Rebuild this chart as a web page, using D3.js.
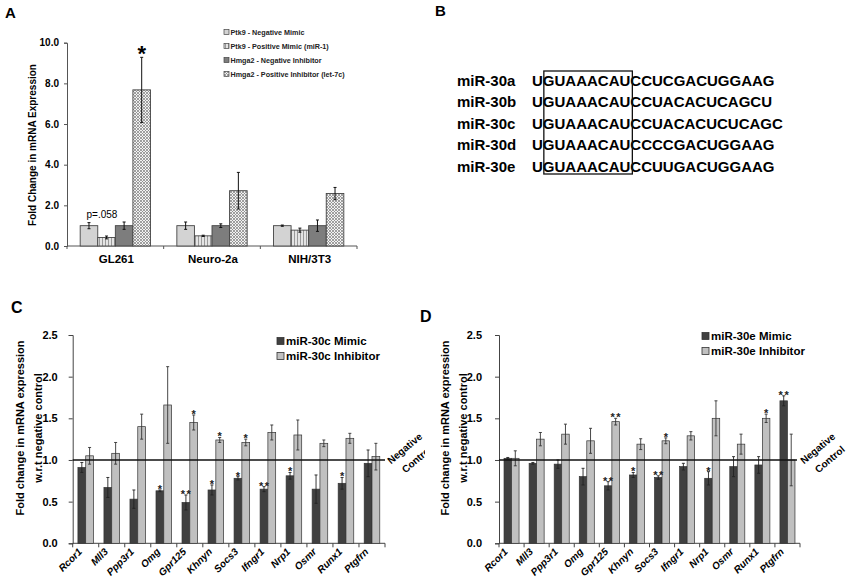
<!DOCTYPE html>
<html><head><meta charset="utf-8">
<script src="https://cdn.jsdelivr.net/npm/d3@7"></script>
<style>
body{margin:0;background:#fff;}
svg{display:block;font-family:Arial,"Liberation Sans",sans-serif;}
</style></head>
<body><svg id="c" width="850" height="586"></svg>
<script>
// ---------- Panel A data ----------
const cellLines = ["GL261", "Neuro-2a", "NIH/3T3"];
const seriesA = ["Ptk9 - Negative Mimic", "Ptk9 - Positive Mimic (miR-1)", "Hmga2 - Negative Inhibitor", "Hmga2 - Positive Inhibitor (let-7c)"];
const ptk9Neg = [1.0, 1.0, 1.0];
const ptk9Pos = [0.42, 0.5, 0.78];
const hmgaNeg = [1.0, 1.0, 1.0];
const hmgaPos = [7.68, 2.72, 2.58];
const ptk9NegErr = [0.15, 0.18, 0.03];
const ptk9PosErr = [0.07, 0.03, 0.1];
const hmgaNegErr = [0.18, 0.09, 0.28];
const hmgaPosErr = [1.6, 0.9, 0.3];
const ticksA = [0, 2, 4, 6, 8, 10];

// ---------- Panel B data ----------
const mirNames = ["miR-30a", "miR-30b", "miR-30c", "miR-30d", "miR-30e"];
const mirSeqs = ["UGUAAACAUCCUCGACUGGAAG", "UGUAAACAUCCUACACUCAGCU", "UGUAAACAUCCUACACUCUCAGC", "UGUAAACAUCCCCGACUGGAAG", "UGUAAACAUCCUUGACUGGAAG"];

// ---------- Panel C / D data ----------
const genes = ["Rcor1", "Mll3", "Ppp3r1", "Omg", "Gpr125", "Khnyn", "Socs3", "Ifngr1", "Nrp1", "Osmr", "Runx1", "Ptgfrn"];
const ticksCD = [0, 0.5, 1.0, 1.5, 2.0, 2.5];
const cMimic = [0.91, 0.67, 0.53, 0.63, 0.49, 0.64, 0.78, 0.65, 0.81, 0.65, 0.72, 0.96];
const cMimicErr = [0.06, 0.12, 0.11, 0.01, 0.09, 0.06, 0.02, 0.03, 0.04, 0.17, 0.07, 0.16];
const cInhib = [1.05, 1.08, 1.40, 1.66, 1.45, 1.24, 1.21, 1.33, 1.30, 1.20, 1.26, 1.04];
const cInhibErr = [0.10, 0.13, 0.15, 0.46, 0.09, 0.03, 0.04, 0.09, 0.18, 0.04, 0.06, 0.16];
const cMimicSig = ["", "", "", "*", "**", "*", "*", "**", "*", "", "*", ""];
const cInhibSig = ["", "", "", "", "*", "*", "*", "", "", "", "", ""];
const dMimic = [1.02, 0.96, 0.95, 0.80, 0.69, 0.82, 0.79, 0.92, 0.78, 0.92, 0.94, 1.71];
const dMimicErr = [0.01, 0.01, 0.05, 0.10, 0.05, 0.03, 0.02, 0.04, 0.08, 0.12, 0.10, 0.06];
const dInhib = [1.02, 1.25, 1.31, 1.23, 1.46, 1.19, 1.23, 1.29, 1.50, 1.19, 1.50, 1.00];
const dInhibErr = [0.09, 0.08, 0.12, 0.15, 0.04, 0.065, 0.035, 0.05, 0.21, 0.12, 0.05, 0.31];
const dMimicSig = ["", "", "", "", "**", "*", "**", "", "*", "", "", "**"];
const dInhibSig = ["", "", "", "", "**", "", "*", "", "", "", "*", ""];

const svg = d3.select("#c");
const defs = svg.append("defs");

// patterns for panel A
const pStripe = defs.append("pattern").attr("id", "stripe").attr("patternUnits", "userSpaceOnUse")
  .attr("width", 3).attr("height", 3);
pStripe.append("rect").attr("width", 3).attr("height", 3).attr("fill", "#e4e4e4");
pStripe.append("rect").attr("width", 1).attr("height", 3).attr("fill", "#9a9a9a");
const pHatch = defs.append("pattern").attr("id", "hatch").attr("patternUnits", "userSpaceOnUse")
  .attr("width", 3).attr("height", 3);
pHatch.append("rect").attr("width", 3).attr("height", 3).attr("fill", "#f2f2f2");
pHatch.append("path").attr("d", "M0,0 L3,3 M3,0 L0,3").attr("stroke", "#8a8a8a").attr("stroke-width", 0.8);

const fillsA = ["#d3d3d3", "url(#stripe)", "#7d7d7d", "url(#hatch)"];

function rotText(parent, x, y, angle, str, attrs) {
  const t = parent.append("text").attr("transform", `translate(${x},${y}) rotate(${angle})`).text(str);
  Object.entries(attrs).forEach(([k, v]) => t.attr(k, v));
  return t;
}

// panel letters
svg.append("text").attr("x", 5).attr("y", 18).attr("font-size", 15).attr("font-weight", "bold").text("A");
svg.append("text").attr("x", 435).attr("y", 16).attr("font-size", 15).attr("font-weight", "bold").text("B");
svg.append("text").attr("x", 11).attr("y", 313).attr("font-size", 16).attr("font-weight", "bold").text("C");
svg.append("text").attr("x", 420).attr("y", 322).attr("font-size", 16).attr("font-weight", "bold").text("D");

// ================= Panel A =================
(function () {
  const g = svg.append("g");
  const y = d3.scaleLinear().domain([0, 10]).range([246, 42.7]);
  const x0 = d3.scaleBand().domain(cellLines).range([67, 357]);
  const x1 = d3.scaleBand().domain(d3.range(4)).range([0, x0.bandwidth()]).paddingOuter(0.75);
  const vals = [ptk9Neg, ptk9Pos, hmgaNeg, hmgaPos];
  const errs = [ptk9NegErr, ptk9PosErr, hmgaNegErr, hmgaPosErr];

  const ya = g.append("g").attr("transform", "translate(67,0)")
    .call(d3.axisLeft(y).tickValues(ticksA).tickFormat(d3.format(".1f")).tickSize(3).tickPadding(5));
  ya.select(".domain").attr("stroke", "#555");
  ya.selectAll(".tick line").attr("stroke", "#555");
  ya.selectAll("text").attr("font-size", 10).attr("font-weight", "bold").attr("fill", "#000")
    .attr("font-family", "Arial, Liberation Sans");

  g.append("line").attr("x1", 67).attr("x2", 357).attr("y1", y(0)).attr("y2", y(0)).attr("stroke", "#555");
  const bounds = cellLines.map(c => x0(c)).concat([x0.range()[1]]);
  g.selectAll(".bt").data(bounds).enter().append("line")
    .attr("x1", d => d).attr("x2", d => d).attr("y1", y(0)).attr("y2", y(0) + 3).attr("stroke", "#555");
  g.selectAll(".xl").data(cellLines).enter().append("text")
    .attr("x", d => x0(d) + x0.bandwidth() / 2 + 1).attr("y", 263)
    .attr("text-anchor", "middle").attr("font-size", 11.5).attr("font-weight", "bold").text(d => d);

  vals.forEach((arr, s) => {
    g.selectAll(".b" + s).data(cellLines).enter().append("rect")
      .attr("x", d => x0(d) + x1(s)).attr("width", x1.bandwidth())
      .attr("y", (d, i) => y(arr[i])).attr("height", (d, i) => y(0) - y(arr[i]))
      .attr("fill", fillsA[s]).attr("stroke", "#444").attr("stroke-width", 0.9);
  });
  vals.forEach((arr, s) => {
    cellLines.forEach((c, i) => {
      const cx = x0(c) + x1(s) + x1.bandwidth() / 2;
      const hi = y(arr[i] + errs[s][i]), lo = y(arr[i] - errs[s][i]);
      g.append("line").attr("x1", cx).attr("x2", cx).attr("y1", hi).attr("y2", lo).attr("stroke", "#111").attr("stroke-width", 1);
      [hi, lo].forEach(yy => g.append("line").attr("x1", cx - 1.5).attr("x2", cx + 1.5).attr("y1", yy).attr("y2", yy).attr("stroke", "#111").attr("stroke-width", 1));
    });
  });
  const gx = x0("GL261");
  g.append("text").attr("x", gx + x1(3) + x1.bandwidth() / 2).attr("y", y(hmgaPos[0] + hmgaPosErr[0]) + 4)
    .attr("text-anchor", "middle").attr("font-size", 22).attr("font-weight", "bold").text("*");
  g.append("text").attr("x", gx + x1(0) + x1.bandwidth() / 2 + 13).attr("y", y(ptk9Neg[0] + ptk9NegErr[0]) - 5)
    .attr("text-anchor", "middle").attr("font-size", 10).attr("font-weight", "normal").text("p=.058");

  const lg = g.append("g");
  seriesA.forEach((s, i) => {
    const yy = 32 + i * 14;
    lg.append("rect").attr("x", 224).attr("y", yy - 2.5).attr("width", 5).attr("height", 5)
      .attr("fill", fillsA[i]).attr("stroke", "#444").attr("stroke-width", 0.7);
    lg.append("text").attr("x", 230.5).attr("y", yy + 2.5).attr("font-size", 7.2).attr("font-weight", "bold").attr("fill", "#222").text(s);
  });

  rotText(g, 36, 145, -90, "Fold Change in mRNA Expression",
    { "text-anchor": "middle", "font-size": 10, "font-weight": "bold" });
})();

// ================= Panel B =================
(function () {
  const g = svg.append("g");
  const rowY = d3.scalePoint().domain(mirNames).range([85.5, 172]);
  let boxX0 = null, boxX1 = null;
  mirNames.forEach((m, i) => {
    g.append("text").attr("x", 457).attr("y", rowY(m)).attr("font-size", 15).attr("font-weight", "bold").text(m);
    const t = g.append("text").attr("x", 532).attr("y", rowY(m)).attr("font-size", 15).attr("font-weight", "bold").text(mirSeqs[i]);
    if (i === 0) {
      const n = t.node();
      const w1 = n.getSubStringLength(0, 1);
      const w2 = n.getSubStringLength(1, 8);
      boxX0 = 532 + w1 + 1;
      boxX1 = boxX0 + w2 + 1;
    }
  });
  g.append("rect").attr("x", boxX0).attr("y", 71).attr("width", boxX1 - boxX0).attr("height", 103)
    .attr("fill", "none").attr("stroke", "#111").attr("stroke-width", 1.3);
})();

// ================= Panels C & D =================
function drawCD(opt) {
  const g = svg.append("g");
  if (opt.clip) g.attr("clip-path", "url(#" + opt.clip + ")");
  const y = d3.scaleLinear().domain([0, 2.5]).range([543.3, 335]);
  const x0 = d3.scaleBand().domain(genes).range([opt.x0, opt.x1]);
  const x1 = d3.scaleBand().domain([0, 1]).range([0, x0.bandwidth()]).paddingOuter(0.67);
  const fills = ["#404040", "#c0c0c0"];
  const vals = [opt.mimic, opt.inhib], errs = [opt.mimicErr, opt.inhibErr], sigs = [opt.mimicSig, opt.inhibSig];

  const ya = g.append("g").attr("transform", `translate(${opt.x0},0)`)
    .call(d3.axisLeft(y).tickValues(ticksCD).tickFormat(d3.format(".1f")).tickSize(4).tickPadding(opt.tickPad));
  ya.select(".domain").attr("stroke", "#444");
  ya.selectAll(".tick line").attr("stroke", "#444");
  ya.selectAll("text").attr("font-size", 11).attr("font-weight", "bold").attr("fill", "#000")
    .attr("font-family", "Arial, Liberation Sans");

  g.append("line").attr("x1", opt.x0).attr("x2", opt.x1).attr("y1", y(0)).attr("y2", y(0)).attr("stroke", "#444");
  const bounds = genes.map(c => x0(c)).concat([opt.x1]);
  g.selectAll(".bt").data(bounds).enter().append("line")
    .attr("x1", d => d).attr("x2", d => d).attr("y1", y(0)).attr("y2", y(0) + 4).attr("stroke", "#444");

  vals.forEach((arr, s) => {
    g.selectAll(".b" + s).data(genes).enter().append("rect")
      .attr("x", d => x0(d) + x1(s)).attr("width", x1.bandwidth())
      .attr("y", (d, i) => y(arr[i])).attr("height", (d, i) => y(0) - y(arr[i]))
      .attr("fill", fills[s]).attr("stroke", "#333").attr("stroke-width", 0.7);
  });
  vals.forEach((arr, s) => {
    genes.forEach((c, i) => {
      const cx = x0(c) + x1(s) + x1.bandwidth() / 2;
      const hi = y(arr[i] + errs[s][i]), lo = y(arr[i] - errs[s][i]);
      const col = s === 0 ? "#222" : "#333";
      g.append("line").attr("x1", cx).attr("x2", cx).attr("y1", hi).attr("y2", lo).attr("stroke", col).attr("stroke-width", 0.9);
      [hi, lo].forEach(yy => g.append("line").attr("x1", cx - 1.5).attr("x2", cx + 1.5).attr("y1", yy).attr("y2", yy).attr("stroke", col).attr("stroke-width", 0.9));
      if (sigs[s][i]) {
        g.append("text").attr("x", cx + (sigs[s][i].length > 1 ? 0.7 : 0)).attr("y", hi + 3)
          .attr("text-anchor", "middle").attr("font-size", 11).attr("font-weight", "bold")
          .attr("letter-spacing", sigs[s][i].length > 1 ? 1.5 : 0).attr("fill", "#222").text(sigs[s][i]);
      }
    });
  });
  g.append("line").attr("x1", opt.x0).attr("x2", opt.lineEnd).attr("y1", y(1)).attr("y2", y(1))
    .attr("stroke", "#111").attr("stroke-width", 1.4);
  rotText(g, opt.negX, opt.negY, -40, "Negative", { "text-anchor": "middle", "font-size": 10, "font-weight": "bold" });
  rotText(g, opt.negX + 12, opt.negY + 11, -40, "Control", { "text-anchor": "middle", "font-size": 10, "font-weight": "bold" });

  genes.forEach(d => {
    rotText(g, x0(d) + x0.bandwidth() / 2 - 3, y(0) + 9, -45, d,
      { "text-anchor": "end", "font-size": 10, "font-weight": "bold", "font-style": "italic" });
  });

  opt.legend.forEach((t, i) => {
    const yy = opt.legY + i * 15;
    g.append("rect").attr("x", opt.legX).attr("y", yy - 3.5).attr("width", 7).attr("height", 7)
      .attr("fill", fills[i]).attr("stroke", "#333").attr("stroke-width", 0.8);
    g.append("text").attr("x", opt.legX + 9).attr("y", yy + 4).attr("font-size", 11.5).attr("font-weight", "bold").text(t);
  });

  rotText(g, opt.titleX, 428, -90, "Fold change in mRNA expression",
    { "text-anchor": "middle", "font-size": 11, "font-weight": "bold" });
  rotText(g, opt.titleX + 18, 428, -90, "w.r.t negative control",
    { "text-anchor": "middle", "font-size": 11, "font-weight": "bold" });
}

defs.append("clipPath").attr("id", "clipC").append("rect").attr("x", 0).attr("y", 280).attr("width", 425).attr("height", 306);

drawCD({
  x0: 72.7, x1: 385, lineEnd: 385, clip: "clipC", tickPad: 11,
  mimic: cMimic, mimicErr: cMimicErr, inhib: cInhib, inhibErr: cInhibErr, mimicSig: cMimicSig, inhibSig: cInhibSig,
  legend: ["miR-30c Mimic", "miR-30c Inhibitor"], legX: 277, legY: 341,
  negX: 407, negY: 451, titleX: 24
});
drawCD({
  x0: 499, x1: 800, lineEnd: 797, tickPad: 13,
  mimic: dMimic, mimicErr: dMimicErr, inhib: dInhib, inhibErr: dInhibErr, mimicSig: dMimicSig, inhibSig: dInhibSig,
  legend: ["miR-30e Mimic", "miR-30e Inhibitor"], legX: 702, legY: 336,
  negX: 820, negY: 451, titleX: 449
});
</script>
</body></html>
